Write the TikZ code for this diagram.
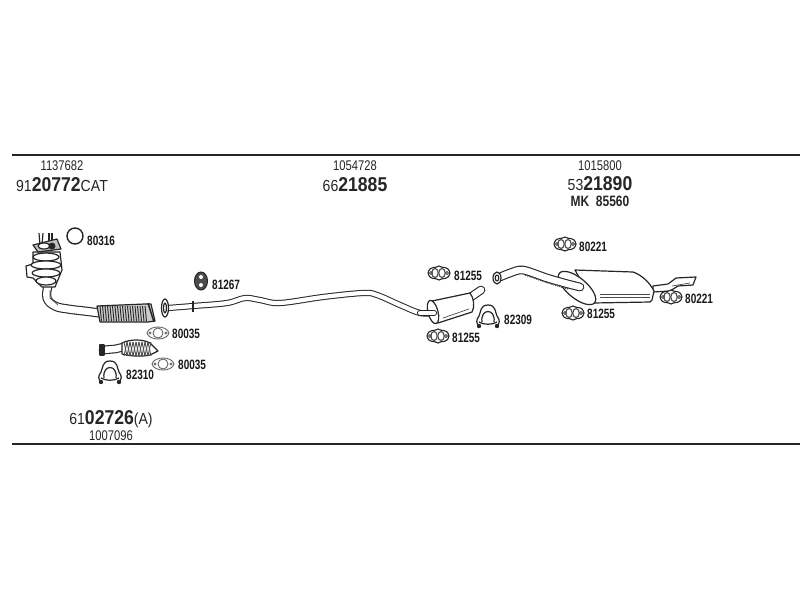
\documentclass[tikz,border=0pt]{standalone}
\usepackage{fontspec}
\setmainfont{Liberation Sans}
\newcommand{\bignum}[1]{{\fontsize{20}{20}\selectfont\bfseries #1}}
\newcommand{\narrowtext}[1]{\scalebox{0.8}[1]{#1}}
\newcommand{\widetext}[1]{\scalebox{0.88}[1]{\fontsize{16}{16}\selectfont #1}}
\newcommand{\smalltext}[1]{\scalebox{0.74}[1]{#1}}
\tikzset{
  rule/.style={line width=1.8pt, draw=black!85},
  codetext/.style={inner sep=0pt, text=black!85, font=\fontsize{14}{14}\selectfont},
  parttext/.style={inner sep=0pt, anchor=west, text=black!90, font=\fontsize{13.5}{13.5}\selectfont\bfseries},
  pipe/.style={draw=black!85, line width=1pt, double=white, double distance=4.2pt, line cap=round},
  fatpipe/.style={draw=black!85, line width=1.1pt, double=white, double distance=6.5pt, line cap=round},
  outline/.style={draw=black!85, line width=1.2pt, fill=white, line join=round},
  thinline/.style={draw=black!70, line width=0.7pt},
  gasket/.pic={
    \draw [outline, line width=1.1pt] (-11,0) .. controls (-9,-8) and (-4,-4) .. (0,-7)
      .. controls (4,-4) and (9,-8) .. (11,0) .. controls (9,8) and (4,4) .. (0,7)
      .. controls (-4,4) and (-9,8) .. (-11,0) -- cycle;
    \draw [thinline, line width=1.1pt] (-4,0) circle (3.2 and 4.5);
    \draw [thinline, line width=1.1pt] (3,0) circle (3.2 and 4.5);
    \draw [thinline, line width=1pt] (-8,0) circle (1.5);
    \draw [thinline, line width=1pt] (8,0) circle (1.5);
  },
  flatgasket/.pic={
    \draw [draw=black!60, line width=0.9pt, fill=white] (-11,0) .. controls (-9,-8) and (9,-8) .. (11,0)
      .. controls (9,8) and (-9,8) .. (-11,0) -- cycle;
    \draw [draw=black!60, line width=0.9pt] (0,0) circle (5);
    \draw [draw=black!60, line width=0.7pt] (-8,0) circle (1.2) (8,0) circle (1.2);
  },
  clamp/.pic={
    \draw [outline, fill=none, line width=1.2pt] (-9,11) .. controls (-12,8) and (-12,5) .. (-9,1)
      .. controls (-7,-3) and (-8,-10) .. (0,-10) .. controls (8,-10) and (7,-3) .. (9,1)
      .. controls (12,5) and (12,8) .. (9,11);
    \draw [outline, fill=none, line width=1.2pt] (-9,7) .. controls (-4,10) and (4,10) .. (9,7);
    \draw [outline, fill=none, line width=1.2pt] (-6,7) .. controls (-8,-7) and (8,-7) .. (6,7);
    \fill [black!85] (-9,11) circle (2.2);
    \fill [black!85] (9,11) circle (2.2);
  }
}

\begin{document}
\begin{tikzpicture}[x=1pt, y=-1pt]
        \useasboundingbox [fill=white] (0,0) rectangle (800,600);

        % top and bottom rules
        \coordinate (topleft) at (12,155);
        \coordinate (topright) at (800,155);
        \coordinate (botleft) at (12,444);
        \coordinate (botright) at (800,444);
        \draw [rule] (topleft) -- (topright);
        \draw [rule] (botleft) -- (botright);

        % order numbers
        \node [codetext] (code-a) at (62,166) {\narrowtext{1137682}};
        \node [codetext] (code-b) at (62,185) {\widetext{91\bignum{20772}CAT}};
        \node [codetext] (code-c) at (355,166) {\narrowtext{1054728}};
        \node [codetext] (code-d) at (355,185) {\widetext{66\bignum{21885}}};
        \node [codetext] (code-e) at (600,166) {\narrowtext{1015800}};
        \node [codetext] (code-f) at (600,184) {\widetext{53\bignum{21890}}};
        \node [codetext, font=\fontsize{15}{15}\selectfont\bfseries] (code-g) at (600,201) {\narrowtext{MK\ \ 85560}};
        \node [codetext] (code-h) at (111,419) {\widetext{61\bignum{02726}(A)}};
        \node [codetext] (code-i) at (111,436) {\narrowtext{1007096}};

        % catalytic converter, flange and studs
        \draw [outline] (40,245) -- (39,233) (42,245) -- (43,233);
        \draw [outline] (49,245) -- (49,233) (52,245) -- (52,233);
        \draw [fatpipe, double distance=7pt] plot [smooth, tension=0.7]
          coordinates{(48,286) (47,298) (55,306) (68,309) (84,311) (100,313)};
        \draw [thinline] (50,290) -- (50,298) -- (58,305);
        \draw [outline] (33,252) -- (60,252) -- (62,270) -- (55,287) -- (42,287) -- (33,278) -- (27,277) -- (26,266) -- (33,264) -- cycle;
        \foreach \y/\w in {257/13, 265/15, 273/14, 281/10} {
          \draw [outline, fill=white] (46,\y) ellipse (\w pt and 4pt);
        }
        \draw [outline, fill=black!25] (33,245) -- (57,239) -- (61,249) -- (38,252) -- cycle;
        \draw [outline, fill=white] (44,246) ellipse (6 and 3);
        \fill [black!85] (52,246) circle (3.5);

        % flexible pipe of the converter
        \draw [outline, fill=black!20] (97,306) -- (145,304) -- (151,304) -- (155,321) -- (148,322) -- (100,322) -- cycle;
        \foreach \x in {100,102.5,...,147} {
          \draw [black!85, line width=0.9pt] (\x,306) -- (\x+1.5,321);
        }
        \draw [black!85, line width=1.5pt] (148,303) -- (154,322);

        % second flexible pipe
        \draw [fatpipe] (103,350) -- (115,349) -- (124,347);
        \draw [outline, fill=black!85] (100,345) rectangle (104,355);
        \draw [outline] (122,343) .. controls (130,339) and (143,339) .. (150,343) -- (158,351) -- (150,355)
          .. controls (140,357) and (130,356) .. (122,354) -- cycle;
        \foreach \x in {124,127,...,148} {
          \draw [black!70, line width=0.9pt] (\x,342) -- (\x+3,356);
          \draw [black!70, line width=0.9pt] (\x+3,342) -- (\x,356);
        }

        % middle pipe
        \draw [pipe] plot [smooth, tension=0.6]
          coordinates{(168,308) (193,306) (227,303) (245,298) (260,300) (280,303) (323,297) (363,293) (377,295) (400,305) (420,313) (434,313)};
        \draw [outline] (165,308) ellipse (3.5 and 9);
        \draw [outline] (165,308) ellipse (1.5 and 5);
        \draw [black!85, line width=1.2pt] (193,301) -- (193,312);

        % front silencer
        \draw [fatpipe] (468,299) -- (481,290);
        \draw [outline] (432,301) -- (470,293) .. controls (474,298) and (475,307) .. (472,312) -- (438,323) -- cycle;
        \draw [thinline] (443,318) -- (469,309);
        \draw [outline, rotate around={15:(433,312)}] (433,312) ellipse (5 and 12);
        \draw [pipe] (420,313) -- (434,313);

        % rear silencer
        \draw [outline] (653,286) -- (668,284) -- (676,278) -- (696,277) -- (693,285) -- (678,286) -- (670,291) -- (653,292) -- cycle;
        \draw [thinline] (672,286) -- (690,283);
        \draw [outline] (575,270) -- (633,272) .. controls (642,275) and (650,283) .. (654,291)
          -- (652,300) -- (650,302) -- (593,303) -- cycle;
        \draw [thinline] (600,294) -- (650,294);
        \draw [thinline] (600,297) -- (650,297);
        \draw [outline, rotate around={-40:(577,288)}] (577,288) ellipse (23 and 10);
        \draw [fatpipe] plot [smooth, tension=0.5]
          coordinates{(500,277) (510,273) (523,270) (547,278) (568,284) (580,287)};
        \draw [black!75, line width=1.2pt, dash pattern=on 1pt off 1pt] (525,275) -- (548,283) -- (568,289);
        \draw [outline] (497,278) ellipse (4 and 6);
        \draw [outline] (497,278) ellipse (1.8 and 3);

        % o-ring and rubber mount
        \draw [black!85, line width=1.4pt] (75,236) circle (8);
        \draw [black!85, fill=black!70, line width=1pt] (201,281) ellipse (6.5 and 9);
        \fill [white] (201,277) circle (2) (201,285) circle (2);

        % gaskets
        \pic at (439,273) {gasket};
        \pic at (438,336) {gasket};
        \pic at (565,244) {gasket};
        \pic at (671,297) {gasket};
        \pic at (573,313) {gasket};
        \pic at (158,333) {flatgasket};
        \pic at (163,364) {flatgasket};

        % clamps
        \pic at (110,371) {clamp};
        \pic at (488,315) {clamp};

        % part numbers
        \node [parttext] (part-a) at (87,241) {\smalltext{80316}};
        \node [parttext] (part-b) at (212,285) {\smalltext{81267}};
        \node [parttext] (part-c) at (172,334) {\smalltext{80035}};
        \node [parttext] (part-d) at (178,365) {\smalltext{80035}};
        \node [parttext] (part-e) at (126,375) {\smalltext{82310}};
        \node [parttext] (part-f) at (454,276) {\smalltext{81255}};
        \node [parttext] (part-g) at (452,338) {\smalltext{81255}};
        \node [parttext] (part-h) at (504,320) {\smalltext{82309}};
        \node [parttext] (part-i) at (579,247) {\smalltext{80221}};
        \node [parttext] (part-j) at (685,299) {\smalltext{80221}};
        \node [parttext] (part-k) at (587,314) {\smalltext{81255}};

      \end{tikzpicture}
\end{document}
